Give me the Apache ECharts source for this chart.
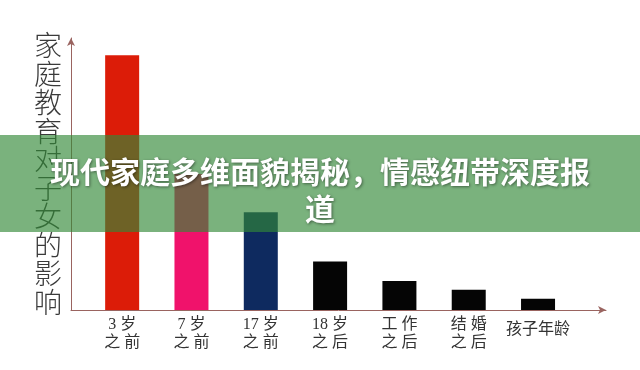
<!DOCTYPE html>
<html><head><meta charset="utf-8">
<script src="https://cdn.jsdelivr.net/npm/echarts@6/dist/echarts.min.js"></script>
<style>html,body{margin:0;padding:0;background:#fff}#c{width:640px;height:370px}</style>
</head><body><div id="c"></div>
<script>
const categories = ["3 岁\n之 前", "7 岁\n之 前", "17 岁\n之 前", "18 岁\n之 后", "工 作\n之 后", "结 婚\n之 后", "孩子年龄"];
const values = [93.7, 50, 35.9, 17.8, 10.7, 7.4, 4.1];
const barColors = ["#dc1c08", "#f0126b", "#0e2a5f", "#050505", "#050505", "#050505", "#050505"];
const yName = "家庭教育对子女的影响";
const titleText = "现代家庭多维面貌揭秘，情感纽带深度报\n道";

const chart = echarts.init(document.getElementById('c'));
const axisColor = '#9a6460';
chart.setOption({
  animation: false,
  backgroundColor: '#ffffff',
  title: {
    text: titleText,
    left: 'center',
    top: 148,
    z: 100,
    textStyle: {
      color: '#ffffff', fontSize: 30, fontWeight: 'bold', lineHeight: 37,
      fontFamily: 'Noto Sans CJK SC',
      textShadowColor: 'rgba(0,0,0,0.45)', textShadowBlur: 3, textShadowOffsetX: 1, textShadowOffsetY: 1
    }
  },
  graphic: [{
    type: 'rect', z: 50,
    shape: { x: 0, y: 135, width: 640, height: 97 },
    style: { fill: 'rgba(51,137,55,0.65)' }
  }],
  grid: [
    { left: 71, right: 34, top: 38, bottom: 60 },
    { left: 87.5, right: 67.3, top: 38, bottom: 60 }
  ],
  xAxis: [
    { gridIndex: 0, type: 'value', min: 0, max: 1,
      axisLine: { show: true, lineStyle: { color: axisColor, width: 1 }, symbol: ['none', 'arrow'], symbolSize: [6, 8] },
      axisTick: { show: false }, axisLabel: { show: false }, splitLine: { show: false } },
    { gridIndex: 1, type: 'category', data: categories,
      axisLine: { show: false }, axisTick: { show: false },
      axisLabel: {
        interval: 0, margin: 6, color: '#333', fontSize: 16, lineHeight: 18,
        fontFamily: 'Liberation Serif, Noto Sans CJK SC',
        formatter: function (v) { return v.indexOf('\n') < 0 ? '{s|' + v + '}' : v; },
        rich: { s: { fontSize: 16, color: '#333', padding: [6, 0, 0, 0], fontFamily: 'Noto Sans CJK SC' } }
      } }
  ],
  yAxis: [
    { gridIndex: 0, type: 'value', min: 0, max: 100,
      name: yName.split('').join('\n'), nameLocation: 'middle', nameRotate: 0, nameGap: 9,
      nameTextStyle: { color: '#3a3a3a', fontSize: 28, lineHeight: 28.5, fontFamily: 'Noto Sans CJK SC', fontWeight: 300, align: 'right', verticalAlign: 'middle' },
      axisLine: { show: true, lineStyle: { color: axisColor, width: 1 }, symbol: ['none', 'arrow'], symbolSize: [6, 8] },
      axisTick: { show: false }, axisLabel: { show: false }, splitLine: { show: false } },
    { gridIndex: 1, type: 'value', min: 0, max: 100, show: false }
  ],
  series: [{
    type: 'bar', xAxisIndex: 1, yAxisIndex: 1,
    barWidth: 34,
    data: values.map((v, i) => ({ value: v, itemStyle: { color: barColors[i] } }))
  }]
});
</script></body></html>
